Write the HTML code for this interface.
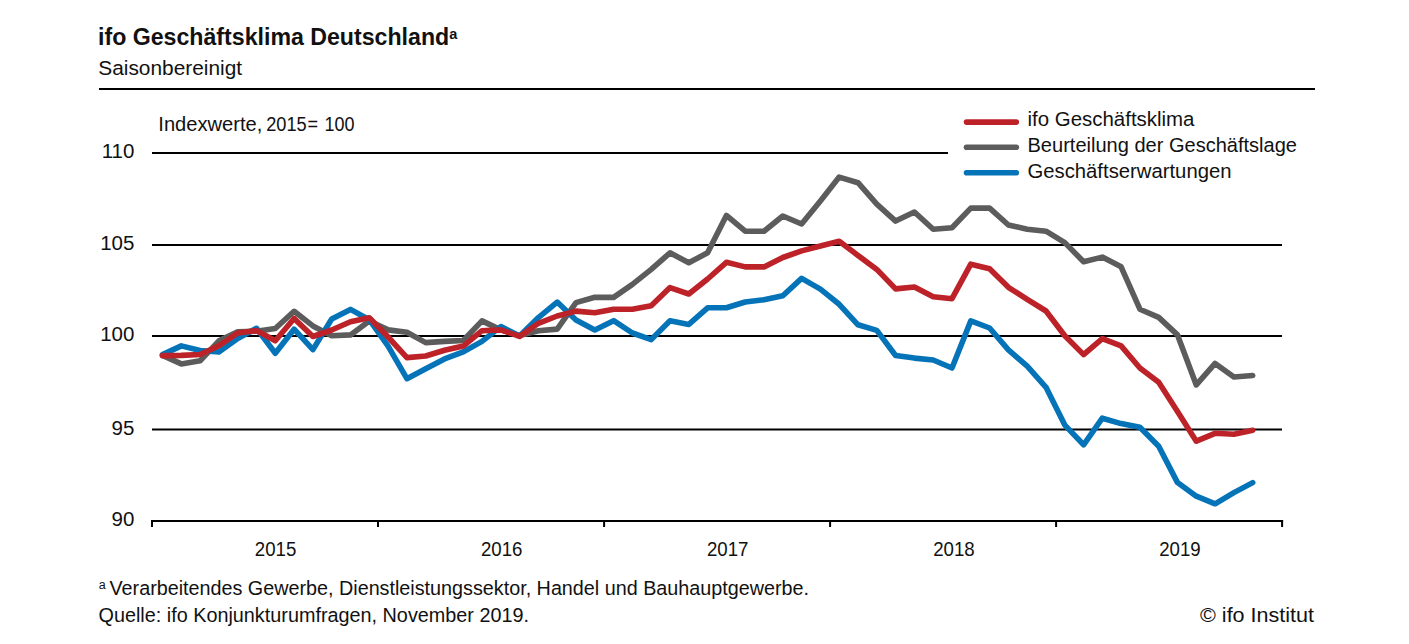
<!DOCTYPE html>
<html><head><meta charset="utf-8"><style>
html,body{margin:0;padding:0;background:#fff;width:1409px;height:644px;overflow:hidden}
svg{display:block}
text{font-family:"Liberation Sans", sans-serif;fill:#111}
</style></head><body>
<svg width="1409" height="644" viewBox="0 0 1409 644">
<rect width="1409" height="644" fill="#fff"/>
<!-- title -->
<text x="98" y="44.8" font-size="23" font-weight="bold" textLength="351.2" lengthAdjust="spacingAndGlyphs" fill="#000">ifo Geschäftsklima Deutschland</text>
<text x="449.3" y="38.5" font-size="14.5" font-weight="bold" fill="#000">a</text>
<text x="98.3" y="74.9" font-size="20.5" textLength="143.8" lengthAdjust="spacingAndGlyphs">Saisonbereinigt</text>
<rect x="99" y="88" width="1216" height="2" fill="#000"/>
<!-- y axis label -->
<text x="158.3" y="130.8" font-size="20.5" textLength="104" lengthAdjust="spacingAndGlyphs">Indexwerte,</text>
<text x="266.2" y="130.8" font-size="20.5" textLength="40.5" lengthAdjust="spacingAndGlyphs">2015</text>
<text x="307.5" y="130.8" font-size="20.5" textLength="10.6" lengthAdjust="spacingAndGlyphs">=</text>
<text x="324.6" y="130.8" font-size="20.5" textLength="30" lengthAdjust="spacingAndGlyphs">100</text>
<!-- grid -->
<rect x="152" y="152" width="796" height="2" fill="#000"/>
<rect x="152" y="244" width="1130" height="2" fill="#000"/>
<rect x="152" y="335" width="1130" height="2" fill="#000"/>
<rect x="152" y="428.5" width="1130" height="2" fill="#000"/>
<rect x="151" y="520" width="1132.1" height="2" fill="#000"/>
<rect x="151.0" y="520" width="2" height="7" fill="#000"/>
<rect x="377.0" y="520" width="2" height="7" fill="#000"/>
<rect x="603.1" y="520" width="2" height="7" fill="#000"/>
<rect x="829.1" y="520" width="2" height="7" fill="#000"/>
<rect x="1055.1" y="520" width="2" height="7" fill="#000"/>
<rect x="1281.1" y="520" width="2" height="7" fill="#000"/>
<text x="134.4" y="158.3" font-size="20.5" text-anchor="end">110</text>
<text x="134.4" y="250.3" font-size="20.5" text-anchor="end">105</text>
<text x="134.4" y="341.3" font-size="20.5" text-anchor="end">100</text>
<text x="134.4" y="434.6" font-size="20.5" text-anchor="end">95</text>
<text x="134.4" y="526.3" font-size="20.5" text-anchor="end">90</text>
<text x="275.6" y="556.0" font-size="20.5" text-anchor="middle" textLength="41.5" lengthAdjust="spacingAndGlyphs">2015</text>
<text x="501.7" y="556.0" font-size="20.5" text-anchor="middle" textLength="41.5" lengthAdjust="spacingAndGlyphs">2016</text>
<text x="727.7" y="556.0" font-size="20.5" text-anchor="middle" textLength="41.5" lengthAdjust="spacingAndGlyphs">2017</text>
<text x="954.0" y="556.0" font-size="20.5" text-anchor="middle" textLength="41.5" lengthAdjust="spacingAndGlyphs">2018</text>
<text x="1180.0" y="556.0" font-size="20.5" text-anchor="middle" textLength="41.5" lengthAdjust="spacingAndGlyphs">2019</text>
<g fill="none" stroke-width="5.6" stroke-linejoin="round" stroke-linecap="round">
<polyline points="162.5,355.4 181.3,363.9 200.1,360.8 218.9,340.9 237.7,331.9 256.5,331.3 275.3,328.5 294.1,311.3 312.9,325.9 331.7,335.7 350.5,334.9 369.3,321.0 388.1,329.9 406.9,332.3 425.7,342.6 444.5,341.4 463.3,340.5 482.0,320.9 500.8,329.9 519.6,335.6 538.4,330.7 557.2,329.1 576.0,302.6 594.8,297.3 613.6,297.4 632.4,284.4 651.2,269.4 670.0,252.8 688.8,262.8 707.6,252.8 726.4,215.4 745.2,231.2 764.0,231.2 782.8,216.0 801.6,224.0 820.4,201.0 839.2,177.1 858.0,182.7 876.8,204.2 895.6,221.1 914.4,212.0 933.2,229.3 952.0,227.7 970.8,208.1 989.6,208.1 1008.4,225.0 1027.2,229.3 1046.0,231.2 1064.8,242.6 1083.6,261.7 1102.3,257.1 1121.1,266.8 1139.9,309.2 1158.7,317.4 1177.5,334.9 1196.3,384.9 1215.1,363.4 1233.9,377.0 1252.7,375.5" stroke="#5c5c5c"/>
<polyline points="162.5,354.6 181.3,345.9 200.1,350.5 218.9,352.0 237.7,338.5 256.5,328.3 275.3,353.2 294.1,329.2 312.9,349.6 331.7,319.0 350.5,309.4 369.3,319.7 388.1,346.2 406.9,378.7 425.7,368.7 444.5,358.9 463.3,351.9 482.0,341.4 500.8,326.6 519.6,336.1 538.4,317.6 557.2,302.1 576.0,320.1 594.8,329.9 613.6,320.7 632.4,333.0 651.2,339.6 670.0,320.7 688.8,324.4 707.6,307.8 726.4,307.8 745.2,302.0 764.0,299.7 782.8,295.7 801.6,278.4 820.4,289.1 839.2,304.3 858.0,324.8 876.8,330.4 895.6,355.5 914.4,358.1 933.2,360.0 952.0,368.0 970.8,320.9 989.6,328.0 1008.4,349.9 1027.2,366.2 1046.0,387.3 1064.8,425.1 1083.6,444.8 1102.3,418.2 1121.1,423.6 1139.9,427.2 1158.7,446.3 1177.5,482.6 1196.3,496.2 1215.1,503.8 1233.9,492.6 1252.7,482.6" stroke="#0573b8"/>
<polyline points="162.5,355.6 181.3,355.4 200.1,354.5 218.9,345.7 237.7,333.0 256.5,330.5 275.3,340.8 294.1,318.5 312.9,336.5 331.7,330.0 350.5,321.8 369.3,317.7 388.1,337.0 406.9,357.6 425.7,356.0 444.5,350.2 463.3,346.1 482.0,330.7 500.8,329.9 519.6,336.4 538.4,323.3 557.2,316.0 576.0,311.1 594.8,312.7 613.6,309.2 632.4,309.2 651.2,305.7 670.0,287.6 688.8,294.0 707.6,279.0 726.4,262.3 745.2,266.9 764.0,266.9 782.8,257.5 801.6,250.9 820.4,246.0 839.2,241.3 858.0,255.4 876.8,269.4 895.6,288.9 914.4,287.0 933.2,296.8 952.0,298.7 970.8,264.2 989.6,268.7 1008.4,287.3 1027.2,299.4 1046.0,311.0 1064.8,335.7 1083.6,354.6 1102.3,338.7 1121.1,345.9 1139.9,368.0 1158.7,382.2 1177.5,411.5 1196.3,441.2 1215.1,433.3 1233.9,434.2 1252.7,430.3" stroke="#bd2228"/>
</g>
<g stroke-width="5.6" stroke-linecap="round">
<line x1="966.5" y1="122.1" x2="1016.3" y2="122.1" stroke="#bd2228"/>
<line x1="966.5" y1="147.2" x2="1016.3" y2="147.2" stroke="#5c5c5c"/>
<line x1="966.5" y1="172.7" x2="1016.3" y2="172.7" stroke="#0573b8"/>
</g>
<text x="1027.5" y="125.7" font-size="20.5" textLength="167" lengthAdjust="spacingAndGlyphs">ifo Geschäftsklima</text>
<text x="1027.5" y="151.5" font-size="20.5" textLength="269.5" lengthAdjust="spacingAndGlyphs">Beurteilung der Geschäftslage</text>
<text x="1027.5" y="177.7" font-size="20.5" textLength="204" lengthAdjust="spacingAndGlyphs">Geschäftserwartungen</text>
<!-- footer -->
<text x="98.8" y="588.7" font-size="12.5">a</text>
<text x="109.5" y="594.8" font-size="20.5" textLength="699.5" lengthAdjust="spacingAndGlyphs">Verarbeitendes Gewerbe, Dienstleistungssektor, Handel und Bauhauptgewerbe.</text>
<text x="98.5" y="621.9" font-size="20.5" textLength="430.5" lengthAdjust="spacingAndGlyphs">Quelle: ifo Konjunkturumfragen, November 2019.</text>
<text x="1314" y="621.9" font-size="20.5" text-anchor="end" textLength="114" lengthAdjust="spacingAndGlyphs">© ifo Institut</text>
</svg>
</body></html>
